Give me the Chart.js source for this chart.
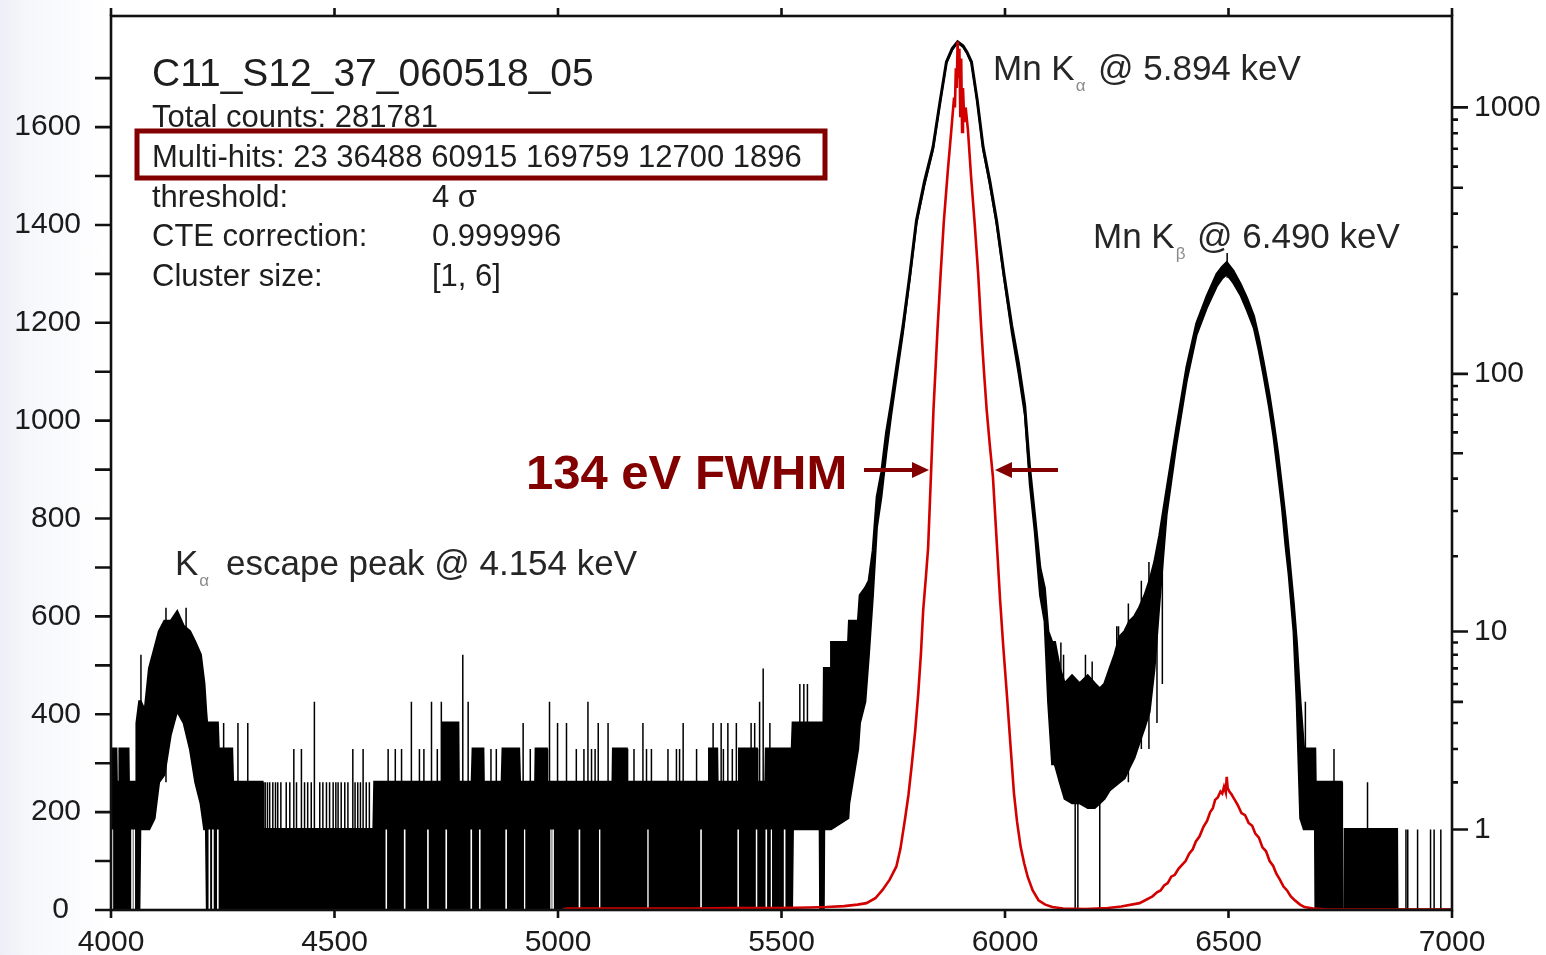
<!DOCTYPE html>
<html lang="en">
<head>
<meta charset="UTF-8">
<title>Mn K spectrum</title>
<script src="https://cdn.jsdelivr.net/npm/chart.js"></script>
<style>
  html, body { margin: 0; padding: 0; }
  body {
    width: 1546px; height: 955px; overflow: hidden;
    background: linear-gradient(to right, #eceff7 0, #f6f7fb 28px, #ffffff 110px);
  }
  canvas { display: block; }
</style>
</head>
<body>
<canvas id="spec" width="1546" height="955"></canvas>
<script>
// ---- axes ----
const xTicks = [4000, 4500, 5000, 5500, 6000, 6500, 7000];
const yTicks = [0, 200, 400, 600, 800, 1000, 1200, 1400, 1600];
const yMinor = [100, 300, 500, 700, 900, 1100, 1300, 1500, 1700];
const y2Ticks = [1, 10, 100, 1000];
const y2Minor = [2, 3, 4, 5, 6, 7, 8, 9, 20, 30, 40, 50, 60, 70, 80, 90,
                 200, 300, 400, 500, 600, 700, 800, 900];

// ---- black spectrum (right axis, counts): band between low and high envelope ----
const bandE = [4000, 4011, 4012, 4019, 4020, 4038, 4039, 4056,
  4058, 4064, 4066, 4076, 4086, 4098, 4108, 4120, 4134, 4148, 4162, 4176, 4188, 4200, 4208, 4212, 4214,
  4238, 4240, 4270, 4272, 4338, 4340, 4588, 4590, 4742, 4743, 4776, 4777, 4808, 4810, 4832, 4833,
  4875, 4877, 4912, 4914, 4950, 4951, 4974, 4975, 5123, 5124, 5153, 5154, 5338, 5339, 5355, 5356,
  5405, 5406, 5444, 5445, 5465, 5466, 5524, 5526, 5585, 5586, 5595, 5596, 5611, 5612, 5650, 5652,
  5672, 5676, 5688, 5696,
  5705, 5714, 5724, 5735, 5746, 5759, 5772, 5787, 5802, 5820, 5839, 5855, 5869, 5882, 5894,
  5906, 5915, 5925, 5938, 5951, 5966, 5981, 5998, 6015, 6030, 6044, 6055, 6066, 6078, 6088, 6096,
  6105, 6111, 6122, 6133, 6150, 6167, 6185, 6201, 6212, 6223, 6235, 6246, 6257, 6268, 6279, 6290,
  6301, 6313, 6324, 6335, 6346,
  6362, 6384, 6407, 6429, 6452, 6474, 6486, 6496, 6510, 6526, 6541, 6556, 6567, 6578, 6590, 6600,
  6610, 6619, 6627, 6634, 6645, 6652, 6660, 6668, 6693, 6694, 6752, 6753, 6760, 6761, 6876, 6877, 7000];
const bandLo = [0, 0, 0, 0, 0, 0, 0, 0,
  0, 0, 1, 1, 1, 1.2, 2, 2.2, 3.5, 4.5, 4, 3, 2, 1.5, 1, 1, 0,
  0, 0, 0, 0, 0, 0, 0, 0, 0, 0, 0, 0, 0, 0, 0, 0,
  0, 0, 0, 0, 0, 0, 0, 0, 0, 0, 0, 0, 0, 0, 0, 0,
  0, 0, 0, 0, 0, 0, 0, 1, 1, 0, 0, 1, 1, 1, 1.2, 1.5,
  3, 4, 5, 8,
  14, 26, 34, 50, 70, 100, 142, 225, 365, 510, 690, 1040, 1460, 1640, 1740,
  1680, 1590, 1460, 1040, 690, 510, 365, 225, 142, 100, 70, 38, 25, 14, 11, 5,
  2.5, 2.5, 2, 1.6, 1.5, 1.5, 1.4, 1.4, 1.5, 1.6, 1.8, 1.9, 2, 2.1, 2.4, 2.7,
  3.2, 3.8, 4.5, 7, 13,
  29, 54, 94, 140, 177, 213, 228, 236, 220, 198, 173, 149, 123, 98, 75, 58,
  42, 31, 22, 17, 10, 5, 1.2, 1, 1, 0, 0, 0, 0, 0, 0, 0, 0];
const bandHi = [3, 3, 2, 2, 3, 3, 2, 2,
  4, 5, 5, 4.5, 7, 8.5, 10, 11, 11, 12, 10.5, 10, 9, 8, 6, 4.5, 4,
  4, 3, 3, 2, 2, 1, 1, 2, 2, 4, 4, 2, 2, 3, 3, 2,
  2, 3, 3, 2, 2, 3, 3, 2, 2, 3, 3, 2, 2, 3, 3, 2,
  2, 3, 3, 2, 2, 3, 3, 4, 4, 4, 4, 7, 7, 9, 9, 11,
  11, 14, 15, 16,
  21, 34, 42, 60, 78, 110, 152, 235, 378, 530, 710, 1060, 1480, 1660, 1760,
  1700, 1610, 1480, 1060, 710, 530, 378, 235, 152, 110, 76, 44, 29, 18, 15, 10,
  9, 9, 7, 6, 6.5, 6, 6.5, 6, 5.7, 6, 7, 8, 9.5, 10, 11, 11.5,
  12.5, 14, 16, 19, 24,
  36, 62, 106, 155, 196, 237, 252, 262, 244, 218, 192, 165, 137, 110, 85, 66,
  50, 37, 28, 21, 13, 9, 5, 3, 3, 2, 2, 0, 0, 1, 1, 0, 0];

// single-channel spikes (vertical lines, counts from spikeLo to spikeHi)
const spikeE = [4067, 4123, 4168, 4252, 4284, 4306,
  4345, 4350, 4355, 4362, 4368, 4373, 4380, 4392, 4400, 4409, 4415, 4426, 4433, 4440, 4448, 4455,
  4467, 4474, 4482, 4489, 4497, 4503, 4508, 4515, 4523, 4530, 4541, 4546, 4552, 4558, 4564, 4571, 4578,
  4620, 4636, 4650, 4672, 4690, 4700, 4717, 4730, 4739, 4787, 4799, 4850, 4862,
  4922, 4938, 4981, 4999, 5019, 5041, 5058, 5067, 5075, 5083, 5090, 5112, 5170, 5190, 5198, 5209,
  5246, 5265, 5272, 5280, 5310, 5347, 5365, 5370, 5380, 5390, 5399, 5432, 5440, 5451, 5459, 5474, 5490,
  5541, 5550, 5558, 6125, 6131, 6157, 6163, 6180, 6195, 6212, 6250, 6254, 6276, 6305, 6322,
  6340, 6352, 6497, 6672, 6736, 6811,
  6897, 6901, 6923, 6952, 6960, 6975];
const spikeLo = [1, 2, 4, 0, 0, 0,
  0, 0, 0, 0, 0, 0, 0, 0, 0, 0, 0, 0, 0, 0, 0, 0,
  0, 0, 0, 0, 0, 0, 0, 0, 0, 0, 0, 0, 0, 0, 0, 0, 0,
  0, 0, 0, 0, 0, 0, 0, 0, 0, 0, 0, 0, 0,
  0, 0, 0, 0, 0, 0, 0, 0, 0, 0, 0, 0, 0, 0, 0, 0,
  0, 0, 0, 0, 0, 0, 0, 0, 0, 0, 0, 0, 0, 0, 0, 0, 0,
  1, 1, 1, 2, 2, 0, 0, 1.5, 1.5, 0, 2, 2, 2, 3, 3,
  4, 6, 230, 1, 0, 0,
  0, 0, 0, 0, 0, 0];
const spikeHi = [8, 12.5, 12.5, 4, 4, 4,
  2, 2, 2, 2, 2, 2, 2, 2, 2, 3, 2, 3, 2, 2, 2, 5,
  2, 2, 2, 2, 2, 2, 2, 2, 2, 2, 3, 2, 2, 2, 3, 2, 2,
  3, 3, 3, 5, 3, 3, 5, 3, 5, 8, 5, 3, 3,
  4, 3, 5, 4, 4, 3, 3, 5, 3, 3, 4, 4, 3, 4, 3, 3,
  3, 3, 3, 4, 3, 4, 4, 3, 4, 3, 4, 4, 4, 5, 7, 4, 3,
  6, 6, 6, 9, 8, 2, 2, 8, 7.5, 2, 10.5, 10.5, 13, 16, 19,
  18, 25, 285, 5, 3, 2,
  1, 1, 1, 1, 1, 1];

// empty channels inside the noise floor (0 to 1 count)
const gapE = [4003, 4047, 4052, 4220, 4228, 4239, 4616, 4657, 4709, 4750, 4806, 4825,
  4884, 4925, 4984, 4989, 5048, 5093, 5201, 5320, 5403, 5444, 5466, 5477, 5507];

// ---- red spectrum (left axis, counts) ----
const redE = [5010, 5020, 5100, 5200, 5300, 5400, 5500, 5560, 5600, 5640, 5670, 5690, 5710, 5726,
  5742, 5757, 5766, 5776, 5784, 5791, 5799, 5806, 5812, 5817, 5823, 5828, 5834, 5840, 5849, 5856,
  5863, 5872, 5880, 5886, 5888, 5890, 5892, 5894, 5896, 5898, 5900, 5902, 5904, 5906, 5909, 5912,
  5917, 5924, 5932, 5940, 5947, 5953, 5959, 5966, 5973, 5981, 5989, 5996, 6004, 6012, 6020, 6027,
  6035, 6043, 6051, 6062, 6075, 6090, 6106, 6130, 6180, 6230, 6260, 6301, 6330, 6340, 6348, 6356,
  6364, 6372, 6380, 6388, 6396, 6404, 6412, 6420, 6427, 6435, 6444, 6452, 6459, 6465, 6470, 6476,
  6482, 6486, 6490, 6494, 6496, 6498, 6502, 6507, 6512, 6516, 6521, 6529, 6537, 6545, 6553, 6560,
  6568, 6576, 6584, 6592, 6600, 6607, 6615, 6623, 6631, 6639, 6647, 6660, 6670, 6690, 6720, 7000];
const redC = [0, 3, 3, 3, 3, 4, 4, 5, 6, 8, 11, 14, 24, 41,
  62, 89, 125, 184, 235, 293, 365, 443, 525, 613, 680, 740, 880, 1022, 1186, 1300,
  1405, 1510, 1595, 1660, 1640, 1720, 1680, 1775, 1700, 1760, 1620, 1740, 1590, 1680, 1610, 1640,
  1595, 1500, 1405, 1300, 1186, 1100, 1022, 950, 885, 760, 634, 540, 443, 340, 239, 180,
  129, 95, 67, 40, 20, 11, 6, 3, 2, 4, 7, 14, 28, 36, 40, 50,
  55, 68, 72, 84, 92, 100, 115, 124, 140, 150, 170, 182, 200, 208, 225, 230,
  242, 238, 252, 240, 272, 250, 242, 236, 228, 222, 214, 198, 194, 178, 172, 156,
  148, 128, 120, 100, 90, 74, 62, 48, 40, 28, 21, 11, 6, 3, 1, 1];

// ---- annotation text ----
const runName = 'C11_S12_37_060518_05';
const infoRows = [
  ['Total counts: 281781', ''],
  ['Multi-hits: 23 36488 60915 169759 12700 1896', ''],
  ['threshold:', '4 \u03c3'],
  ['CTE correction:', '0.999996'],
  ['Cluster size:', '[1, 6]']
];
const fwhmText = '134 eV FWHM';

const FONT = '"Liberation Sans", Arial, Helvetica, sans-serif';
const DARK_RED = '#820000';

// right axis: log10(counts + 1)
class Log1pScale extends Chart.LinearScale {
  static id = 'log1p';
  static defaults = {};
  _t(v) { return Math.log10(v + 1); }
  getPixelForValue(v) {
    if (v === null || v === undefined || isNaN(v)) return NaN;
    const a = this._t(this.min), b = this._t(this.max);
    return this.getPixelForDecimal((this._t(v) - a) / (b - a));
  }
  getValueForPixel(p) {
    const a = this._t(this.min), b = this._t(this.max);
    return Math.pow(10, a + this.getDecimalForPixel(p) * (b - a)) - 1;
  }
}
Chart.register(Log1pScale);

function pts(xs, ys) { return xs.map((x, i) => ({ x: x, y: ys[i] })); }
function vlines(xs, lo, hi) {
  const out = [];
  xs.forEach((x, i) => {
    out.push({ x: x, y: Array.isArray(lo) ? lo[i] : lo }, { x: x, y: Array.isArray(hi) ? hi[i] : hi }, { x: x, y: null });
  });
  return out;
}

// frame and tick marks
const framePlugin = {
  id: 'frame',
  beforeDraw(chart) {
    const { ctx, chartArea: a } = chart;
    ctx.save();
    ctx.fillStyle = '#ffffff';
    ctx.fillRect(a.left, a.top, a.right - a.left, a.bottom - a.top);
    ctx.restore();
  },
  afterDatasetsDraw(chart) {
    const { ctx, chartArea: a, scales } = chart;
    ctx.save();
    ctx.strokeStyle = '#111';
    ctx.lineWidth = 2.6;
    ctx.beginPath();
    yTicks.concat(yMinor).forEach(v => {
      const py = scales.y.getPixelForValue(v);
      ctx.moveTo(a.left - 16, py); ctx.lineTo(a.left, py);
    });
    xTicks.forEach(v => {
      const px = scales.x.getPixelForValue(v);
      ctx.moveTo(px, a.bottom); ctx.lineTo(px, a.bottom + 8);
      ctx.moveTo(px, a.top); ctx.lineTo(px, a.top - 8);
    });
    y2Ticks.forEach(v => {
      const py = scales.y2.getPixelForValue(v);
      ctx.moveTo(a.right, py); ctx.lineTo(a.right + 16, py);
    });
    y2Minor.forEach(v => {
      const py = scales.y2.getPixelForValue(v);
      const len = String(v).charAt(0) === '5' ? 11 : 6;
      ctx.moveTo(a.right, py); ctx.lineTo(a.right + len, py);
    });
    ctx.stroke();
    ctx.strokeRect(a.left, a.top, a.right - a.left, a.bottom - a.top);
    ctx.restore();
  }
};

// label with a small grey subscript, tail text starts at tailX
function subLabel(ctx, x, y, head, sub, tail, tailX) {
  ctx.font = '35px ' + FONT;
  ctx.fillStyle = '#262626';
  ctx.fillText(head, x, y);
  const cx = x + ctx.measureText(head).width;
  ctx.font = '17px ' + FONT;
  ctx.fillStyle = '#8a8a8a';
  ctx.fillText(sub, cx + 1, y + 11);
  ctx.font = '35px ' + FONT;
  ctx.fillStyle = '#262626';
  ctx.fillText(tail, tailX, y);
}

function arrow(ctx, x0, x1, y) {
  const dir = Math.sign(x1 - x0);
  ctx.beginPath();
  ctx.moveTo(x0, y); ctx.lineTo(x1 - dir * 14, y);
  ctx.stroke();
  ctx.beginPath();
  ctx.moveTo(x1, y);
  ctx.lineTo(x1 - dir * 17, y - 8);
  ctx.lineTo(x1 - dir * 17, y + 8);
  ctx.closePath();
  ctx.fill();
}

const notesPlugin = {
  id: 'notes',
  afterDraw(chart) {
    const ctx = chart.ctx;
    ctx.save();
    ctx.textAlign = 'left';
    ctx.textBaseline = 'alphabetic';
    ctx.fillStyle = '#1e1e1e';
    ctx.font = '39px ' + FONT;
    ctx.fillText(runName, 152, 86);
    ctx.font = '31px ' + FONT;
    infoRows.forEach((r, i) => {
      const by = 127 + i * 39.8;
      ctx.fillText(r[0], 152, by);
      if (r[1]) ctx.fillText(r[1], 432, by);
    });
    ctx.strokeStyle = DARK_RED;
    ctx.lineWidth = 5;
    ctx.strokeRect(137, 131, 688, 47);

    subLabel(ctx, 993, 80, 'Mn K', '\u03b1', '@ 5.894 keV', 1098);
    subLabel(ctx, 1093, 248, 'Mn K', '\u03b2', '@ 6.490 keV', 1197);
    subLabel(ctx, 175, 575, 'K', '\u03b1', 'escape peak @ 4.154 keV', 226);

    ctx.fillStyle = DARK_RED;
    ctx.font = 'bold 49px ' + FONT;
    ctx.fillText(fwhmText, 526, 489);
    ctx.strokeStyle = DARK_RED;
    ctx.lineWidth = 4;
    arrow(ctx, 864, 929, 470);
    arrow(ctx, 1058, 995, 470);
    ctx.restore();
  }
};

const tickFont = { family: FONT, size: 30 };
const noPadV = s => { s.paddingTop = 0; s.paddingBottom = 0; };

new Chart(document.getElementById('spec'), {
  type: 'line',
  data: {
    datasets: [
      { label: 'linear', data: pts(redE, redC), yAxisID: 'y', borderColor: '#d30000',
        borderWidth: 2.6, pointRadius: 0, tension: 0, order: 0 },
      { label: 'spikes', data: vlines(spikeE, spikeLo, spikeHi), yAxisID: 'y2', borderColor: '#000',
        borderWidth: 1.5, pointRadius: 0, spanGaps: false, order: 1 },
      { label: 'gaps', data: vlines(gapE, 0, 1), yAxisID: 'y2', borderColor: '#ffffff',
        borderWidth: 1.6, pointRadius: 0, spanGaps: false, order: 2 },
      { label: 'log high', data: pts(bandE, bandHi), yAxisID: 'y2', borderColor: '#000',
        borderWidth: 3, pointRadius: 0, tension: 0, fill: '+1', backgroundColor: '#000', order: 3 },
      { label: 'log low', data: pts(bandE, bandLo), yAxisID: 'y2', borderColor: '#000',
        borderWidth: 1.6, pointRadius: 0, tension: 0, fill: false, order: 4 }
    ]
  },
  options: {
    responsive: false,
    animation: false,
    devicePixelRatio: 1,
    events: [],
    layout: { padding: { top: 16, left: 0, right: 0, bottom: 0 } },
    plugins: { legend: { display: false }, tooltip: { enabled: false } },
    scales: {
      x: {
        type: 'linear', position: 'bottom', min: 4000, max: 7000,
        afterBuildTicks: s => { s.ticks = xTicks.map(v => ({ value: v })); },
        ticks: { font: tickFont, color: '#1b1b1b', padding: 15, maxRotation: 0, autoSkip: false,
                 callback: v => String(v) },
        grid: { display: false, drawTicks: false }, border: { display: false },
        afterFit: s => { s.height = 45; s.paddingLeft = 0; s.paddingRight = 0; }
      },
      y: {
        type: 'linear', position: 'left', min: 0, max: 1827,
        afterBuildTicks: s => { s.ticks = yTicks.map(v => ({ value: v })); },
        ticks: { font: tickFont, color: '#1b1b1b', padding: 30, autoSkip: false,
                 callback: v => (v === 0 ? '0\u2009\u2009' : String(v)) },
        grid: { display: false, drawTicks: false }, border: { display: false },
        afterFit: s => { s.width = 111; noPadV(s); }
      },
      y2: {
        type: 'log1p', position: 'right', min: 0, max: 2197,
        afterBuildTicks: s => { s.ticks = y2Ticks.map(v => ({ value: v })); },
        ticks: { font: tickFont, color: '#1b1b1b', padding: 22, autoSkip: false,
                 callback: v => String(v) },
        grid: { display: false, drawTicks: false }, border: { display: false },
        afterFit: s => { s.width = 94; noPadV(s); }
      }
    }
  },
  plugins: [framePlugin, notesPlugin]
});
</script>
</body>
</html>
